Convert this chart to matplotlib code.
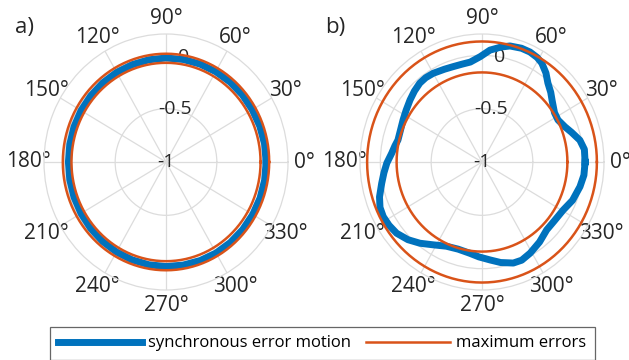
import numpy as np
import matplotlib.pyplot as plt
from matplotlib.lines import Line2D

plt.rcParams['font.family'] = ['Open Sans', 'DejaVu Sans']

# a) synchronous error motion, sampled every 10 degrees
theta_a_deg = list(range(0, 360, 10))
sync_a = [-0.015, -0.016, -0.018, -0.020, -0.020, -0.021, -0.022, -0.023, -0.024,
          -0.025, -0.027, -0.029, -0.030, -0.032, -0.034, -0.035, -0.037, -0.039,
          -0.040, -0.039, -0.037, -0.035, -0.032, -0.029, -0.026, -0.024, -0.022,
          -0.020, -0.019, -0.017, -0.015, -0.015, -0.015, -0.015, -0.015, -0.015]
max_err_a = [-0.07, 0.015]

# b) synchronous error motion
theta_b_deg = [0, 6.7, 12, 17.5, 22, 27.8, 33, 40, 44, 48.8, 53, 57.6, 61, 65.4,
               70, 75.8, 80, 85.7, 91, 97, 102, 107.7, 113, 120, 125, 129.6, 135,
               140.6, 147, 153, 160, 166, 170, 174.7, 180.6, 186, 191.5, 198, 203,
               207.8, 213, 218.5, 225, 231.3, 238, 246, 254, 262, 268, 275, 281,
               288, 293, 299, 307, 315, 322, 330.6, 338, 346.5, 353]
sync_b = [0.014, 0.014, -0.016, -0.076, -0.12, -0.155, -0.15, -0.10, -0.06, -0.016,
          0.045, 0.098, 0.12, 0.134, 0.135, 0.122, 0.095, 0.052, -0.012, -0.056,
          -0.062, -0.062, -0.055, -0.04, -0.035, -0.04, -0.06, -0.084, -0.11,
          -0.129, -0.145, -0.148, -0.13, -0.108, -0.064, -0.03, 0.007, 0.06, 0.09,
          0.098, 0.09, 0.073, 0.03, -0.024, -0.085, -0.136, -0.15, -0.136, -0.11,
          -0.078, -0.04, -0.004, 0.0, -0.023, -0.06, -0.10, -0.10, -0.083, -0.04,
          -0.009, 0.01]
max_err_b = [-0.16, 0.13]

r_ticks = [-1, -0.5, 0]
r_tick_labels = ['-1', '-0.5', '0']
theta_ticks = list(range(0, 360, 30))
theta_labels = [f'{t}°' for t in theta_ticks]

blue = '#0072BD'
orange = '#D95319'
grid_c = '#dcdcdc'
text_c = '#262626'

fig = plt.figure(figsize=(6.29, 3.6), dpi=100)

boxes = [(44 / 629, 70 / 360, 244 / 629, 256 / 360),
         (360 / 629, 70 / 360, 244 / 629, 256 / 360)]
panels = [('a)', 15, theta_a_deg, sync_a, max_err_a),
          ('b)', 325, theta_b_deg, sync_b, max_err_b)]

circle_t = np.linspace(0, 2 * np.pi, 361)

for box, (tag, tag_x, th_deg, sync, max_err) in zip(boxes, panels):
    ax = fig.add_axes(box, projection='polar')
    ax.set_aspect('auto')
    th = np.deg2rad(list(th_deg) + [th_deg[0]])
    rr = list(sync) + [sync[0]]
    ax.plot(th, rr, color=blue, lw=5, solid_joinstyle='round', zorder=3)
    for e in max_err:
        ax.plot(circle_t, np.full_like(circle_t, e), color=orange, lw=1.8, zorder=4)
    ax.set_ylim(-1, 0.2)
    ax.set_thetagrids(theta_ticks, theta_labels, fontsize=15, color=text_c)
    ax.set_rgrids(r_ticks, [''] * len(r_ticks))
    ax.tick_params(axis='x', pad=1)
    ax.grid(True, color=grid_c, lw=0.9)
    ax.spines['polar'].set_color(grid_c)
    ax.spines['polar'].set_linewidth(0.9)
    for r, lab in zip(r_ticks, r_tick_labels):
        ax.text(np.deg2rad(80), r, lab, ha='center', va='center',
                fontsize=14, color=text_c, zorder=2)
    fig.text(tag_x / 629, 1 - 28 / 360, tag, fontsize=16, color=text_c,
             ha='left', va='center')

handles = [Line2D([], [], color=blue, lw=5),
           Line2D([], [], color=orange, lw=1.8)]
leg = fig.legend(handles, ['synchronous error motion', 'maximum errors'],
                 loc='upper left', bbox_to_anchor=(50 / 629, 1 - 327 / 360),
                 ncol=2, fontsize=12, frameon=True, fancybox=False,
                 handlelength=5.0, columnspacing=0.9, borderaxespad=0,
                 borderpad=0.5, handletextpad=0.4)
leg.get_frame().set_edgecolor('#404040')
leg.get_frame().set_linewidth(0.9)

fig.savefig('out.png', dpi=100)
